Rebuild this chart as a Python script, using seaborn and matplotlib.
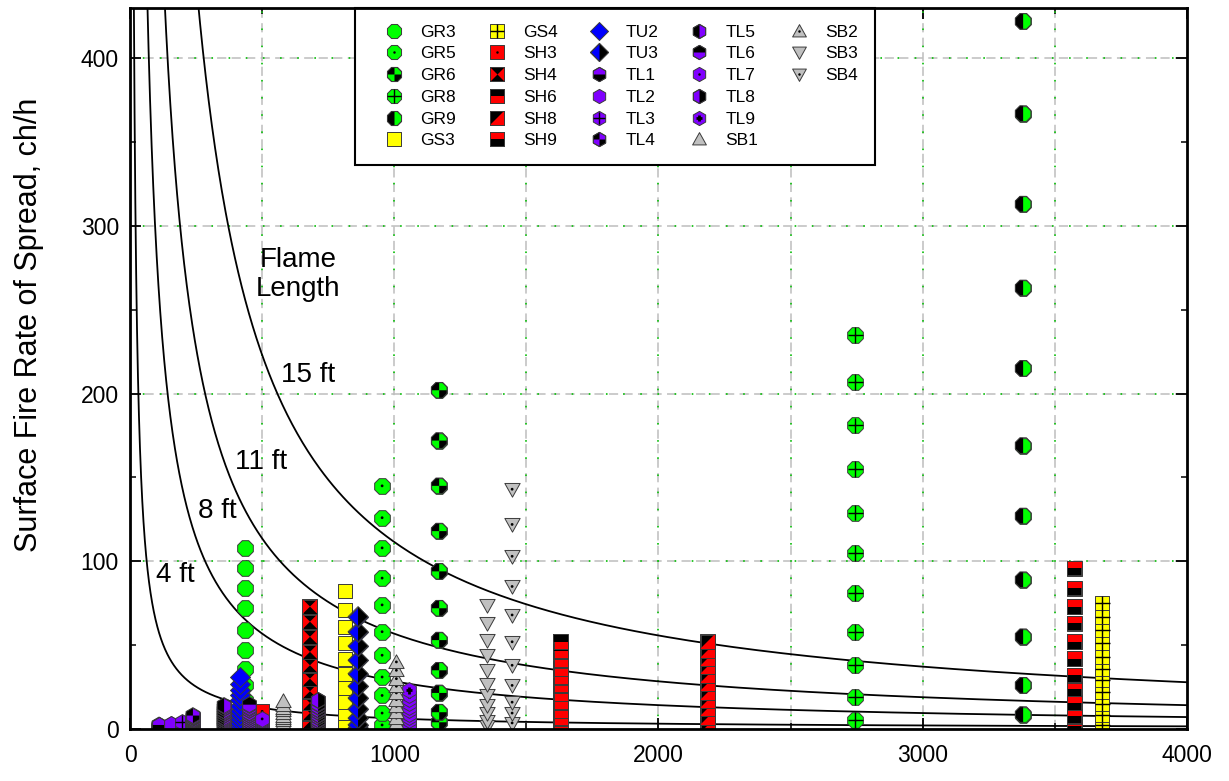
import numpy as np
import matplotlib
matplotlib.use("Agg")
import matplotlib.pyplot as plt
import seaborn as sns
from matplotlib.path import Path
from matplotlib.markers import MarkerStyle
from matplotlib.lines import Line2D
from matplotlib.legend_handler import HandlerTuple

# ---------------------------------------------------------------------------
# Fuel models: heat per unit area (BTU/ft2) and surface rate of spread (ch/h)
# ---------------------------------------------------------------------------
models = ["GR3", "GR5", "GR6", "GR8", "GR9", "GS3",
          "GS4", "SH3", "SH4", "SH6", "SH8", "SH9",
          "TU2", "TU3", "TL1", "TL2", "TL3", "TL4",
          "TL5", "TL6", "TL7", "TL8", "TL9", "SB1",
          "SB2", "SB3", "SB4"]
heat_per_area = [436, 954, 1170, 2745, 3380, 814,
                 3680, 500, 681, 1630, 2187, 3573,
                 416, 863, 110, 155, 197, 238,
                 356, 452, 500, 712, 1056, 579,
                 1008, 1352, 1446]

gr3_ros = [108, 96, 84, 72, 59, 47, 36, 26, 17, 9, 3]
gr5_ros = [145, 126, 108, 90, 74, 58, 44, 31, 20, 9.5, 2.4]
gr6_ros = [202, 172, 145, 118, 94, 72, 53, 35, 21.5, 10, 4]
gr8_ros = [235, 207, 181, 155, 129, 105, 81, 58, 38, 19, 5.4]
gr9_ros = [422, 367, 313, 263, 215, 169, 127, 89, 55, 26, 8.6]
gs3_ros = [82, 71, 61, 51, 42, 33, 24.5, 16, 9.5, 3.6, 0.5]
gs4_ros = [75, 67, 59, 51, 43, 36, 29, 22, 15, 8.5, 2.5]
sh3_ros = [10.5, 9.3, 8.2, 7.1, 6, 5, 4, 3, 2.1, 1.3, 0.6]
sh4_ros = [73, 64, 55, 46, 38, 30, 22.5, 15.5, 9.5, 4.5, 1]
sh6_ros = [52, 46.5, 41, 36, 31, 26, 21, 16, 11, 6.5, 2.5]
sh8_ros = [52, 47, 42, 37, 32, 27, 22, 17, 12, 7, 2]
sh9_ros = [96, 84, 73, 63, 52, 42, 32, 24, 15.5, 7.5, 1.5]
tu2_ros = [31, 27, 23.5, 20, 17, 14, 11, 8.5, 6, 3.5, 1.5]
tu3_ros = [67, 58, 49.5, 41, 33, 25.5, 18.5, 12, 6.5, 2.5, 0.5]
tl1_ros = [2.4, 2.1, 1.8, 1.6, 1.3, 1.1, 0.9, 0.7, 0.5, 0.3, 0.2]
tl2_ros = [3.2, 2.8, 2.5, 2.1, 1.8, 1.5, 1.2, 0.9, 0.7, 0.4, 0.2]
tl3_ros = [4, 3.5, 3.1, 2.7, 2.3, 1.9, 1.6, 1.2, 0.9, 0.6, 0.3]
tl4_ros = [8, 7, 6.2, 5.4, 4.6, 3.9, 3.2, 2.5, 1.8, 1.2, 0.6]
tl5_ros = [14, 12.4, 10.9, 9.5, 8.1, 6.8, 5.5, 4.3, 3.1, 2, 1]
tl6_ros = [14.5, 12.8, 11.2, 9.7, 8.3, 7, 5.7, 4.5, 3.3, 2.2, 1.1]
tl7_ros = [6, 5.3, 4.6, 4, 3.4, 2.8, 2.3, 1.8, 1.3, 0.8, 0.4]
tl8_ros = [17, 15, 13.2, 11.5, 9.9, 8.4, 6.9, 5.5, 4.1, 2.8, 1.4]
tl9_ros = [23, 20.5, 18, 15.7, 13.4, 11.2, 9.1, 7.1, 5.1, 3.2, 1.4]
sb1_ros = [16.5, 14.6, 12.8, 11.1, 9.5, 8, 6.5, 5.1, 3.7, 2.4, 1.1]
sb2_ros = [40, 35, 30, 25.5, 21.5, 17.5, 13.5, 10, 6.5, 3.5, 1]
sb3_ros = [74, 63, 53, 44, 35, 27, 20.5, 14.5, 9.5, 5, 1.5]
sb4_ros = [143, 122, 103, 85, 68, 52, 38, 26, 16, 9.5, 3.6]

spread_rates = [gr3_ros, gr5_ros, gr6_ros, gr8_ros, gr9_ros, gs3_ros,
                gs4_ros, sh3_ros, sh4_ros, sh6_ros, sh8_ros, sh9_ros,
                tu2_ros, tu3_ros, tl1_ros, tl2_ros, tl3_ros, tl4_ros,
                tl5_ros, tl6_ros, tl7_ros, tl8_ros, tl9_ros, sb1_ros,
                sb2_ros, sb3_ros, sb4_ros]

# Flame length isolines (ft), Byram: FL = 0.45 * I^0.46
flame_lengths = [4, 8, 11, 15]
flame_labels = ["4 ft", "8 ft", "11 ft", "15 ft"]
flame_label_xy = [(170, 92), (329, 130), (496, 159), (674, 211)]

# ---------------------------------------------------------------------------
# Marker geometry
# ---------------------------------------------------------------------------
GREEN, YELLOW, RED = "#00ff00", "#ffff00", "#ff0000"
BLUE, PURPLE, GRAY, BLACK = "#0000ff", "#8000ff", "#c0c0c0", "#000000"
EDGE = "#3a3a3a"
EDGE_W = 0.7


def regular(n, start):
    a = np.deg2rad(start + 360.0 / n * np.arange(n))
    return list(zip(np.cos(a), np.sin(a)))


OCT = regular(8, 22.5)
HEX = regular(6, 90)
SQ = [(-0.85, -0.85), (0.85, -0.85), (0.85, 0.85), (-0.85, 0.85)]
DIA = [(1, 0), (0, 1), (-1, 0), (0, -1)]
TRI_UP = [(0, 0.95), (-0.95, -0.75), (0.95, -0.75)]
TRI_DN = [(x, -y) for x, y in TRI_UP]

BOX = {"oct": 12.2, "sq": 12.7, "dia": 14.4, "hex": 11.4, "tri": 11.6}
SHAPES = {"oct": OCT, "sq": SQ, "dia": DIA, "hex": HEX, "tri_up": TRI_UP,
          "tri_dn": TRI_DN}


def clip(poly, a, b, c):
    """Keep the part of a convex polygon where a*x + b*y <= c."""
    out = []
    n = len(poly)
    for i in range(n):
        p, q = poly[i], poly[(i + 1) % n]
        fp = a * p[0] + b * p[1] - c
        fq = a * q[0] + b * q[1] - c
        if fp <= 0:
            out.append(p)
        if fp * fq < 0:
            t = fp / (fp - fq)
            out.append((p[0] + t * (q[0] - p[0]), p[1] + t * (q[1] - p[1])))
    return out


HALF = {"left": (1, 0, 0), "right": (-1, 0, 0), "top": (0, -1, 0), "bottom": (0, 1, 0)}


def part(poly, *sides):
    for s in sides:
        poly = clip(poly, *HALF[s])
    return poly


def mpath(polys=(), segs=()):
    # two leading move-to points fix every marker to the same unit box
    verts = [(1.0, 1.0), (-1.0, -1.0)]
    codes = [Path.MOVETO, Path.MOVETO]
    for poly in polys:
        verts += list(poly) + [poly[0]]
        codes += [Path.MOVETO] + [Path.LINETO] * (len(poly) - 1) + [Path.CLOSEPOLY]
    for a, b in segs:
        verts += [a, b]
        codes += [Path.MOVETO, Path.LINETO]
    return MarkerStyle(Path(verts, codes))


def plus(r):
    return [((-r, 0), (r, 0)), ((0, -r), (0, r))]


def style(shape, color, overlay=None, extra=None):
    """shape key, base colour, overlay polygons with colours, extra decoration."""
    return dict(shape=shape, color=color, overlay=overlay or [], extra=extra)


def quads(poly):
    return [part(poly, "left", "top"), part(poly, "right", "bottom")]


marker_styles = {
    "GR3": style("oct", GREEN),
    "GR5": style("oct", GREEN, extra="dot"),
    "GR6": style("oct", GREEN, [(q, BLACK) for q in quads(OCT)]),
    "GR8": style("oct", GREEN, extra=("plus", 0.92, 1.0)),
    "GR9": style("oct", GREEN, [(part(OCT, "left"), BLACK)]),
    "GS3": style("sq", YELLOW),
    "GS4": style("sq", YELLOW, extra=("plus", 0.85, 1.0)),
    "SH3": style("sq", RED, extra="dot"),
    "SH4": style("sq", BLACK, [([(-0.85, -0.85), (-0.85, 0.85), (0, 0)], RED),
                               ([(0.85, -0.85), (0.85, 0.85), (0, 0)], RED)]),
    "SH6": style("sq", RED, [(part(SQ, "top"), BLACK)]),
    "SH8": style("sq", BLACK, [([(-0.85, -0.85), (0.85, -0.85), (0.85, 0.85)], RED)]),
    "SH9": style("sq", BLACK, [(part(SQ, "top"), RED)]),
    "TU2": style("dia", BLUE),
    "TU3": style("dia", BLUE, [(part(DIA, "right"), BLACK)]),
    "TL1": style("hex", PURPLE, [(part(HEX, "bottom"), BLACK)]),
    "TL2": style("hex", PURPLE),
    "TL3": style("hex", PURPLE, extra=("plus", 0.86, 1.0)),
    "TL4": style("hex", PURPLE, [(q, BLACK) for q in quads(HEX)]),
    "TL5": style("hex", PURPLE, [(part(HEX, "left"), BLACK)]),
    "TL6": style("hex", PURPLE, [(part(HEX, "top"), BLACK)]),
    "TL7": style("hex", PURPLE, extra="dot"),
    "TL8": style("hex", PURPLE, [(part(HEX, "right"), BLACK)]),
    "TL9": style("hex", PURPLE, extra=("plus", 0.42, 2.0)),
    "SB1": style("tri_up", GRAY),
    "SB2": style("tri_up", GRAY, extra="dot"),
    "SB3": style("tri_dn", GRAY),
    "SB4": style("tri_dn", GRAY, extra="dot"),
}


def box_of(shape):
    return BOX["tri"] if shape.startswith("tri") else BOX[shape]


# ---------------------------------------------------------------------------
# Figure
# ---------------------------------------------------------------------------
sns.set_style("ticks")
plt.rcParams["font.family"] = ["Liberation Sans", "DejaVu Sans"]
plt.rcParams["text.color"] = "black"
plt.rcParams["axes.labelcolor"] = "black"
plt.rcParams["xtick.color"] = "black"
plt.rcParams["ytick.color"] = "black"

fig = plt.figure(figsize=(12.29, 7.81), dpi=100)
ax = fig.add_axes([0.1058, 0.0666, 0.8600, 0.9232])

ax.set_xlim(0, 4000)
ax.set_ylim(0, 430)

ax.set_xticks([0, 1000, 2000, 3000, 4000])
ax.set_xticks(np.arange(500, 4000, 1000), minor=True)
ax.set_yticks([0, 100, 200, 300, 400])
ax.set_yticks(np.arange(50, 430, 100), minor=True)

# dashed grid with small green dots between the dashes
for gx in np.arange(500, 4000, 500):
    ax.axvline(gx, color="#bdbdbd", lw=1.1, ls=(0, (6, 3.5)), zorder=0.5)
    ax.axvline(gx, color="#18c018", lw=1.3, ls=(2.4, (0.9, 8.6)), zorder=0.6)
for gy in [100, 200, 300, 400]:
    ax.axhline(gy, color="#bdbdbd", lw=1.1, ls=(0, (6, 3.5)), zorder=0.5)
    ax.axhline(gy, color="#18c018", lw=1.3, ls=(2.4, (0.9, 8.6)), zorder=0.6)

# flame length isolines: I = H * R, with R converted from ch/h to ft/s
H = np.geomspace(8, 4000, 800)
for fl in flame_lengths:
    intensity = (fl / 0.45) ** (1 / 0.46)
    R = intensity / (H * 66.0 / 3600.0)
    keep = R < 470
    sns.lineplot(x=H[keep], y=R[keep], color="black", lw=1.3, ax=ax,
                 estimator=None, sort=False, legend=False, zorder=2)

for lab, (tx, ty) in zip(flame_labels, flame_label_xy):
    ax.text(tx, ty, lab, fontsize=20, ha="center", va="center", zorder=3)
ax.text(636, 271, "Flame\nLength", fontsize=20, ha="center", va="center",
        linespacing=1.15, zorder=3)

# fuel model points, drawn in layers from the lowest point upward
legend_handles = []
z = 4
for name, hpa, ros in zip(models, heat_per_area, spread_rates):
    st = marker_styles[name]
    shape = SHAPES[st["shape"]]
    box = box_of(st["shape"])
    ys = np.sort(np.asarray(ros, dtype=float))
    xs = np.full(len(ys), float(hpa))
    base = mpath([shape])
    parts = [Line2D([], [], ls="none", marker=base, markersize=box,
                    markerfacecolor=st["color"], markeredgecolor=EDGE,
                    markeredgewidth=EDGE_W)]
    for poly, col in st["overlay"]:
        parts.append(Line2D([], [], ls="none", marker=mpath([poly]), markersize=box,
                            markerfacecolor=col, markeredgewidth=0))
    if st["overlay"]:
        parts.append(Line2D([], [], ls="none", marker=base, markersize=box,
                            markerfacecolor="none", markeredgecolor=EDGE,
                            markeredgewidth=EDGE_W))
    extra = st["extra"]
    if extra == "dot":
        parts.append(Line2D([], [], ls="none", marker="o", markersize=2,
                            markerfacecolor=BLACK, markeredgewidth=0))
    elif extra is not None:
        _, r, w = extra
        parts.append(Line2D([], [], ls="none", marker=mpath(segs=plus(r)),
                            markersize=box, markerfacecolor="none",
                            markeredgecolor=BLACK, markeredgewidth=w))
    legend_handles.append(tuple(parts))

    # each point is drawn whole (all layers) before the next one above it
    for xi, yi in zip(xs, ys):
        for h in parts:
            ms = h.get_marker()
            size = h.get_markersize()
            fc = h.get_markerfacecolor()
            ec = h.get_markeredgecolor()
            lw = h.get_markeredgewidth()
            sns.scatterplot(x=[xi], y=[yi], marker=ms, s=size ** 2 if size > 3 else 4,
                            color=ec if fc == "none" else fc,
                            facecolor=fc, edgecolor=ec if lw > 0 else "none",
                            linewidth=lw, ax=ax, zorder=z, legend=False)
            z += 0.0001

labels = list(models)
handles = list(legend_handles)
for _ in range(3):
    handles.append(Line2D([], [], ls="none"))
    labels.append("")

leg = ax.legend(handles, labels, handler_map={tuple: HandlerTuple(ndivide=1, pad=0)},
                ncol=5, loc="upper left", bbox_to_anchor=(0.213, 1.0),
                borderaxespad=0, frameon=True, fancybox=False, framealpha=1,
                edgecolor="black", fontsize=12.5, handlelength=2.6,
                handletextpad=0.2, columnspacing=1.07, labelspacing=0.38,
                borderpad=0.95, markerscale=0.9)
leg.get_frame().set_linewidth(1.5)
leg.set_zorder(10)

# axes frame and ticks
for sp in ax.spines.values():
    sp.set_linewidth(2.0)
    sp.set_color("black")
    sp.set_zorder(11)
ax.tick_params(which="major", direction="in", length=8, width=1.3,
               top=True, right=True, labelsize=16.5, pad=11, colors="black")
ax.tick_params(which="minor", direction="in", length=4, width=1.1,
               top=True, right=True, colors="black")
ax.tick_params(axis="y", which="major", pad=8)

ax.set_ylabel("Surface Fire Rate of Spread, ch/h", fontsize=22, color="black")
ax.yaxis.set_label_coords(-0.081, 0.56)
ax.set_xlabel("")

fig.savefig("out.png", dpi=100)
